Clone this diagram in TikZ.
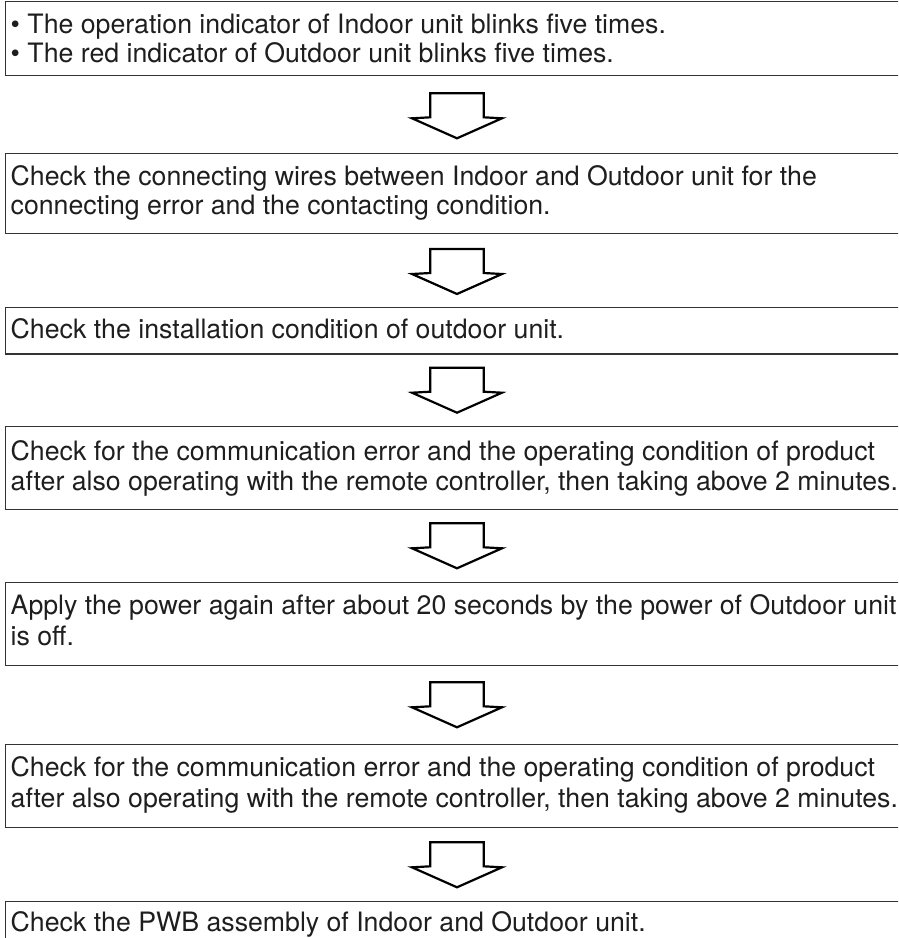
\documentclass[tikz,border=0pt]{standalone}
\usepackage{fontspec}
\setmainfont{TeX Gyre Heros}
\definecolor{boxgray}{HTML}{333333}
\definecolor{textgray}{HTML}{1E1E1E}
\begin{document}
\begin{tikzpicture}[x=1pt,y=-1pt,
  stepbox/.style={draw=boxgray, line width=1.2pt, inner sep=0pt, anchor=north west, minimum width=940pt},
  txt/.style={anchor=base west, inner sep=0pt, text=textgray, font=\fontsize{26.7}{30}\selectfont},
  flowarrow/.pic={\draw[line width=2.2pt, line join=miter, miter limit=10]
     (-26.7,0) -- (26.7,0) -- (26.7,24) -- (45,25) -- (0,45) -- (-45,25) -- (-26.7,24) -- cycle;}
]
\useasboundingbox (0,0) rectangle (898,938);
\clip (0,0) rectangle (898,938);
% boxes
\node[stepbox, minimum height=73.7pt] (b1) at (4.5,1) {};
\node[stepbox, minimum height=80pt]   (b2) at (4.5,152.7) {};
\node[stepbox, minimum height=46.6pt] (b3) at (4.5,306.7) {};
\node[stepbox, minimum height=82.7pt] (b4) at (4.5,426) {};
\node[stepbox, minimum height=83.3pt] (b5) at (4.5,581.7) {};
\node[stepbox, minimum height=82.7pt] (b6) at (4.5,744) {};
\node[stepbox, minimum height=60pt]   (b7) at (4.5,901) {};
% texts
\node[txt] (t1a) at (10.5,33.3) {• The operation indicator of Indoor unit blinks five times.};
\node[txt] (t1b) at (10.5,62.3) {• The red indicator of Outdoor unit blinks five times.};
\node[txt] (t2a) at (10.5,185) {Check the connecting wires between Indoor and Outdoor unit for the};
\node[txt] (t2b) at (10.5,214.5) {connecting error and the contacting condition.};
\node[txt] (t3a) at (10.5,338) {Check the installation condition of outdoor unit.};
\node[txt] (t4a) at (10.5,460) {Check for the communication error and the operating condition of product};
\node[txt] (t4b) at (10.5,490) {after also operating with the remote controller, then taking above 2 minutes.};
\node[txt] (t5a) at (10.5,614) {Apply the power again after about 20 seconds by the power of Outdoor unit};
\node[txt] (t5b) at (10.5,645) {is off.};
\node[txt] (t6a) at (10.5,776.7) {Check for the communication error and the operating condition of product};
\node[txt] (t6b) at (10.5,807.5) {after also operating with the remote controller, then taking above 2 minutes.};
\node[txt] (t7a) at (10.5,931.7) {Check the PWB assembly of Indoor and Outdoor unit.};
% block arrows
\pic at (457,93.3) {flowarrow};
\pic at (457,249) {flowarrow};
\pic at (457,367.7) {flowarrow};
\pic at (457,523.3) {flowarrow};
\pic at (457,682.3) {flowarrow};
\pic at (457,842.3) {flowarrow};
\end{tikzpicture}
\end{document}
